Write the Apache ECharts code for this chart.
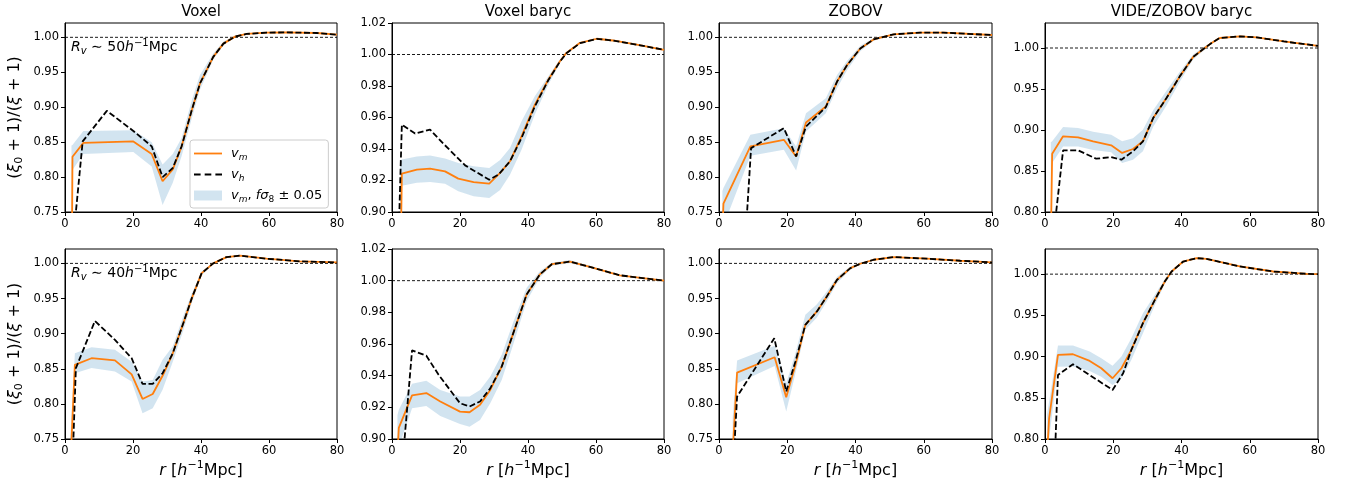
<!DOCTYPE html>
<html><head><meta charset="utf-8">
<script src="https://cdn.jsdelivr.net/npm/echarts@6/dist/echarts.min.js"></script>
<style>html,body{margin:0;padding:0;background:#fff}#c{width:1351px;height:488px}</style>
</head><body><div id="c"></div><script>
// ---- tick labels & titles ----
const xTicks = [0, 20, 40, 60, 80];
const yTicks075 = [0.75, 0.80, 0.85, 0.90, 0.95, 1.00];
const yTicks090 = [0.90, 0.92, 0.94, 0.96, 0.98, 1.00, 1.02];
const yTicks080 = [0.80, 0.85, 0.90, 0.95, 1.00];
const titles = ['Voxel', 'Voxel baryc', 'ZOBOV', 'VIDE/ZOBOV baryc'];
const radiusLabels = ['50', '40'];

// ---- Panel 1: Voxel, Rv~50 ----
const p1_r  = [1.9, 2.2, 5.4, 20.1, 25.5, 28.7, 31.7, 34.3, 37.3, 39.7, 43.6, 46.6, 50.0, 53.4, 59.3, 65.2, 74.0, 80.0];
const p1_vm = [0.60, 0.829, 0.849, 0.851, 0.833, 0.794, 0.811, 0.844, 0.896, 0.934, 0.972, 0.991, 1.001, 1.0048, 1.0067, 1.0071, 1.0062, 1.0038];
const p1_lo = [0.55, 0.810, 0.833, 0.836, 0.815, 0.760, 0.792, 0.830, 0.884, 0.925, 0.968, 0.989, 1.000, 1.0040, 1.0060, 1.0064, 1.0055, 1.0032];
const p1_hi = [0.845, 0.846, 0.866, 0.867, 0.850, 0.818, 0.833, 0.856, 0.910, 0.946, 0.977, 0.994, 1.002, 1.0056, 1.0074, 1.0078, 1.0069, 1.0044];
const p1_rh = [3.0, 5.2, 12.3, 20.1, 25.5, 28.7, 31.7, 34.3, 37.3, 39.7, 43.6, 46.6, 50.0, 53.4, 59.3, 65.2, 74.0, 80.0];
const p1_vh = [0.74, 0.851, 0.8948, 0.866, 0.844, 0.800, 0.813, 0.844, 0.896, 0.934, 0.972, 0.991, 1.001, 1.0048, 1.0067, 1.0071, 1.0062, 1.0038];

// ---- Panel 2: Voxel baryc, Rv~50 ----
const p2_r  = [2.4, 2.9, 7.3, 11.2, 15.6, 19.5, 24.0, 28.6, 31.8, 34.7, 38.1, 42.0, 46.0, 49.4, 51.3, 55.3, 60.2, 65.0, 72.0, 80.0];
const p2_vm = [0.85, 0.9243, 0.9269, 0.9275, 0.9258, 0.9212, 0.919, 0.918, 0.9248, 0.9322, 0.948, 0.968, 0.9841, 0.9957, 1.001, 1.0074, 1.010, 1.0089, 1.0062, 1.003];
const p2_lo = [0.85, 0.9167, 0.9185, 0.9191, 0.918, 0.9131, 0.910, 0.9089, 0.914, 0.9237, 0.9396, 0.9619, 0.9809, 0.9945, 1.0003, 1.0068, 1.0093, 1.0082, 1.0056, 1.0025];
const p2_hi = [0.933, 0.9333, 0.9352, 0.9358, 0.934, 0.9311, 0.929, 0.928, 0.933, 0.9407, 0.9576, 0.9735, 0.9862, 0.997, 1.0017, 1.008, 1.0107, 1.0096, 1.0068, 1.0035];
const p2_rh = [1.9, 2.9, 6.8, 11.2, 15.1, 21.5, 24.9, 28.6, 31.3, 34.7, 38.1, 42.0, 46.0, 49.4, 51.3, 55.3, 60.2, 65.0, 72.0, 80.0];
const p2_vh = [0.88, 0.9555, 0.9498, 0.9523, 0.9434, 0.9296, 0.9252, 0.9205, 0.9237, 0.9322, 0.947, 0.967, 0.9838, 0.9955, 1.0008, 1.0072, 1.0099, 1.0089, 1.0062, 1.003];

// ---- Panel 3: ZOBOV, Rv~50 ----
const p3_r  = [1.0, 1.3, 9.2, 19.0, 22.6, 25.5, 31.3, 34.6, 37.5, 41.4, 45.3, 51.2, 59.0, 65.8, 80.0];
const p3_vm = [0.72, 0.762, 0.8438, 0.8533, 0.8295, 0.878, 0.901, 0.9367, 0.960, 0.984, 0.997, 1.0043, 1.0067, 1.0067, 1.0033];
const p3_lo = [0.68, 0.73, 0.8305, 0.839, 0.8095, 0.8652, 0.8914, 0.927, 0.953, 0.980, 0.995, 1.0035, 1.006, 1.006, 1.0026];
const p3_hi = [0.78, 0.7843, 0.8605, 0.870, 0.8438, 0.8914, 0.9129, 0.9462, 0.966, 0.988, 0.999, 1.0051, 1.0074, 1.0074, 1.004];
const p3_rh = [8.1, 9.4, 19.0, 22.6, 25.5, 31.3, 34.6, 37.5, 41.4, 45.3, 51.2, 59.0, 65.8, 80.0];
const p3_vh = [0.74, 0.8414, 0.870, 0.8295, 0.8724, 0.900, 0.9367, 0.960, 0.984, 0.997, 1.0043, 1.0067, 1.0067, 1.0033];

// ---- Panel 4: VIDE/ZOBOV baryc, Rv~50 ----
const p4_r  = [1.7, 2.1, 5.3, 9.7, 14.1, 19.4, 22.6, 25.8, 28.7, 31.7, 35.6, 39.5, 43.4, 46.8, 48.8, 51.2, 57.1, 62.0, 70.0, 80.0];
const p4_vm = [0.76, 0.8711, 0.8923, 0.8911, 0.8862, 0.8813, 0.872, 0.8768, 0.8862, 0.9146, 0.939, 0.9654, 0.989, 1.000, 1.006, 1.0122, 1.0141, 1.013, 1.008, 1.0026];
const p4_lo = [0.70, 0.8598, 0.880, 0.880, 0.8755, 0.8728, 0.8598, 0.8638, 0.874, 0.904, 0.930, 0.959, 0.986, 0.998, 1.005, 1.0112, 1.0131, 1.012, 1.0072, 1.002];
const p4_hi = [0.885, 0.8862, 0.9037, 0.9025, 0.898, 0.8943, 0.8862, 0.890, 0.9004, 0.924, 0.948, 0.971, 0.992, 1.002, 1.007, 1.0132, 1.0151, 1.014, 1.0088, 1.0032];
const p4_rh = [3.0, 5.3, 9.7, 15.0, 19.4, 22.4, 25.8, 28.7, 31.7, 35.6, 39.5, 43.4, 46.8, 48.8, 51.2, 57.1, 62.0, 70.0, 80.0];
const p4_vh = [0.79, 0.8752, 0.8752, 0.865, 0.867, 0.8638, 0.874, 0.886, 0.9146, 0.939, 0.9654, 0.989, 1.000, 1.006, 1.0122, 1.0141, 1.013, 1.008, 1.0026];

// ---- Panel 5: Voxel, Rv~40 ----
const p5_r  = [1.0, 2.9, 7.8, 14.7, 19.6, 22.8, 25.8, 28.7, 31.7, 34.8, 37.3, 40.2, 43.6, 47.5, 51.5, 59.3, 69.0, 80.0];
const p5_vm = [0.65, 0.8555, 0.865, 0.862, 0.842, 0.807, 0.814, 0.840, 0.872, 0.915, 0.9506, 0.9862, 1.000, 1.009, 1.011, 1.0067, 1.003, 1.0014];
const p5_lo = [0.60, 0.8436, 0.851, 0.846, 0.8317, 0.7866, 0.7937, 0.820, 0.860, 0.905, 0.944, 0.983, 0.999, 1.008, 1.010, 1.006, 1.0024, 1.0008];
const p5_hi = [0.70, 0.872, 0.8807, 0.877, 0.860, 0.8317, 0.834, 0.8627, 0.882, 0.925, 0.957, 0.989, 1.001, 1.010, 1.012, 1.0074, 1.0036, 1.002];
const p5_rh = [2.4, 3.2, 8.8, 14.7, 19.6, 22.8, 25.8, 28.7, 31.7, 34.8, 37.3, 40.2, 43.6, 47.5, 51.5, 59.3, 69.0, 80.0];
const p5_vh = [0.74, 0.8508, 0.918, 0.891, 0.865, 0.8284, 0.8284, 0.8436, 0.872, 0.915, 0.9506, 0.9862, 1.000, 1.009, 1.011, 1.0067, 1.003, 1.0014];

// ---- Panel 6: Voxel baryc, Rv~40 ----
const p6_r  = [1.6, 2.0, 5.9, 10.1, 14.2, 20.0, 22.8, 25.9, 28.9, 32.3, 35.7, 39.6, 43.5, 47.0, 52.3, 58.2, 67.0, 80.0];
const p6_vm = [0.89, 0.907, 0.9275, 0.929, 0.9237, 0.9173, 0.9169, 0.9216, 0.931, 0.9459, 0.967, 0.9913, 1.004, 1.0104, 1.012, 1.0087, 1.0034, 1.0];
const p6_lo = [0.88, 0.895, 0.9194, 0.9209, 0.9146, 0.9095, 0.9078, 0.912, 0.9226, 0.9374, 0.960, 0.987, 1.002, 1.0095, 1.011, 1.008, 1.003, 0.9995];
const p6_hi = [0.915, 0.9184, 0.9349, 0.9368, 0.931, 0.9268, 0.9268, 0.931, 0.9395, 0.9533, 0.974, 0.9955, 1.006, 1.0113, 1.013, 1.0094, 1.0038, 1.0005];
const p6_rh = [3.5, 5.9, 10.1, 13.7, 20.0, 22.8, 25.9, 28.9, 32.3, 35.7, 39.6, 43.5, 47.0, 52.3, 58.2, 67.0, 80.0];
const p6_vh = [0.895, 0.956, 0.9526, 0.9406, 0.9226, 0.9205, 0.9237, 0.932, 0.9459, 0.967, 0.9913, 1.004, 1.0104, 1.012, 1.0087, 1.0034, 1.0];

// ---- Panel 7: ZOBOV, Rv~40 ----
const p7_r  = [4.0, 5.3, 16.3, 19.7, 22.4, 25.3, 28.7, 31.6, 34.6, 38.5, 41.4, 45.3, 51.2, 60.9, 70.7, 80.0];
const p7_vm = [0.73, 0.8446, 0.8664, 0.8094, 0.8555, 0.9125, 0.9316, 0.953, 0.9767, 0.9933, 0.9995, 1.0052, 1.009, 1.0067, 1.0038, 1.0014];
const p7_lo = [0.65, 0.8294, 0.854, 0.789, 0.8436, 0.9054, 0.923, 0.946, 0.972, 0.991, 0.998, 1.0044, 1.0082, 1.006, 1.0033, 1.001];
const p7_hi = [0.78, 0.8617, 0.8826, 0.8294, 0.872, 0.9268, 0.942, 0.960, 0.981, 0.996, 1.001, 1.006, 1.0098, 1.0074, 1.0043, 1.0018];
const p7_rh = [4.4, 5.3, 16.2, 19.7, 22.4, 25.3, 28.7, 31.6, 34.6, 38.5, 41.4, 45.3, 51.2, 60.9, 70.7, 80.0];
const p7_vh = [0.73, 0.8104, 0.8935, 0.8175, 0.8603, 0.9125, 0.9316, 0.953, 0.9767, 0.9933, 0.9995, 1.0052, 1.009, 1.0067, 1.0038, 1.0014];

// ---- Panel 8: VIDE/ZOBOV baryc, Rv~40 ----
const p8_r  = [0.6, 1.2, 3.8, 8.2, 13.1, 16.5, 19.8, 22.4, 25.3, 28.7, 32.2, 35.1, 37.1, 40.5, 44.4, 47.3, 57.1, 66.9, 76.7, 80.0];
const p8_vm = [0.78, 0.825, 0.902, 0.9028, 0.8947, 0.8858, 0.8737, 0.8858, 0.908, 0.9405, 0.9688, 0.991, 1.0032, 1.0153, 1.0194, 1.0186, 1.0093, 1.0032, 1.0004, 1.0];
const p8_lo = [0.70, 0.80, 0.8878, 0.888, 0.8826, 0.8756, 0.8655, 0.8737, 0.8959, 0.9283, 0.9627, 0.988, 1.001, 1.0143, 1.0185, 1.0177, 1.0085, 1.0026, 0.9999, 0.9996];
const p8_hi = [0.83, 0.845, 0.9133, 0.9135, 0.906, 0.898, 0.889, 0.900, 0.9223, 0.9526, 0.9749, 0.994, 1.0054, 1.0163, 1.0203, 1.0195, 1.0101, 1.0038, 1.0009, 1.0004];
const p8_rh = [3.0, 3.8, 8.2, 19.8, 22.9, 25.3, 28.7, 32.2, 35.1, 37.1, 40.5, 44.4, 47.3, 57.1, 66.9, 76.7, 80.0];
const p8_vh = [0.79, 0.8777, 0.8907, 0.8595, 0.8797, 0.908, 0.9405, 0.9688, 0.991, 1.0032, 1.0153, 1.0194, 1.0186, 1.0093, 1.0032, 1.0004, 1.0];

const panels = [
  {r:p1_r, vm:p1_vm, lo:p1_lo, hi:p1_hi, rh:p1_rh, vh:p1_vh, ymin:0.75, ymax:1.0205, ticks:yTicks075},
  {r:p2_r, vm:p2_vm, lo:p2_lo, hi:p2_hi, rh:p2_rh, vh:p2_vh, ymin:0.90, ymax:1.02,   ticks:yTicks090},
  {r:p3_r, vm:p3_vm, lo:p3_lo, hi:p3_hi, rh:p3_rh, vh:p3_vh, ymin:0.75, ymax:1.0205, ticks:yTicks075},
  {r:p4_r, vm:p4_vm, lo:p4_lo, hi:p4_hi, rh:p4_rh, vh:p4_vh, ymin:0.80, ymax:1.0305, ticks:yTicks080},
  {r:p5_r, vm:p5_vm, lo:p5_lo, hi:p5_hi, rh:p5_rh, vh:p5_vh, ymin:0.75, ymax:1.0205, ticks:yTicks075},
  {r:p6_r, vm:p6_vm, lo:p6_lo, hi:p6_hi, rh:p6_rh, vh:p6_vh, ymin:0.90, ymax:1.02,   ticks:yTicks090},
  {r:p7_r, vm:p7_vm, lo:p7_lo, hi:p7_hi, rh:p7_rh, vh:p7_vh, ymin:0.75, ymax:1.0205, ticks:yTicks075},
  {r:p8_r, vm:p8_vm, lo:p8_lo, hi:p8_hi, rh:p8_rh, vh:p8_vh, ymin:0.80, ymax:1.0305, ticks:yTicks080}
];

// ---- layout / style ----
const FONT = '"DejaVu Sans", sans-serif';
const ORANGE = '#ff7f0e';
const BAND = 'rgba(31,119,180,0.2)';
const lefts = [65, 392, 719, 1045];
const widths = [272, 272, 273, 273];
const tops = [23, 249];
const heights = [189, 190];

function rich(fs) {
  return {
    n:   {fontSize: fs, fontFamily: FONT, color: '#000', lineHeight: Math.round(fs * 1.3), verticalAlign: 'middle'},
    i:   {fontSize: fs, fontFamily: FONT, color: '#000', fontStyle: 'italic', lineHeight: Math.round(fs * 1.3), verticalAlign: 'middle'},
    sub: {fontSize: Math.round(fs * 0.7), fontFamily: FONT, color: '#000', lineHeight: Math.round(fs * 0.7), verticalAlign: 'bottom'},
    subi:{fontSize: Math.round(fs * 0.7), fontFamily: FONT, color: '#000', fontStyle: 'italic', lineHeight: Math.round(fs * 0.7), verticalAlign: 'bottom'},
    sup: {fontSize: Math.round(fs * 0.7), fontFamily: FONT, color: '#000', lineHeight: Math.round(fs * 0.7), verticalAlign: 'top'}
  };
}

const grids = [], xAxes = [], yAxes = [], series = [], graphics = [];
panels.forEach((p, i) => {
  const row = Math.floor(i / 4), col = i % 4;
  grids.push({left: lefts[col], top: tops[row], width: widths[col], height: heights[row],
    show: true, borderColor: '#000', borderWidth: 1, backgroundColor: 'transparent'});
  const xa = {type: 'value', gridIndex: i, min: 0, max: 80, interval: 20,
    axisLine: {show: true, lineStyle: {color: '#000', width: 1}},
    axisTick: {show: true, length: 4, lineStyle: {color: '#000'}, customValues: xTicks},
    axisLabel: {customValues: xTicks, fontSize: 11.5, color: '#000', margin: 6, fontFamily: FONT},
    splitLine: {show: false}};
  if (row === 1) {
    xa.name = '{i|r} [{i|h}{sup|−1}Mpc]';
    xa.nameLocation = 'middle';
    xa.nameGap = 21;
    xa.nameTextStyle = {fontSize: 16, fontFamily: FONT, color: '#000', lineHeight: 21, rich: rich(16)};
  }
  xAxes.push(xa);
  const ya = {type: 'value', gridIndex: i, min: p.ymin, max: p.ymax,
    axisLine: {show: true, lineStyle: {color: '#000', width: 1}},
    axisTick: {show: true, length: 4, lineStyle: {color: '#000'}, customValues: p.ticks},
    axisLabel: {customValues: p.ticks, fontSize: 11.5, color: '#000', margin: 6, fontFamily: FONT,
      formatter: v => v.toFixed(2)},
    splitLine: {show: false}};
  if (col === 0) {
    ya.name = '({i|ξ}{sub|0} + 1)/({i|ξ} + 1)';
    ya.nameLocation = 'middle';
    ya.nameRotate = 90;
    ya.nameGap = 40;
    ya.nameTextStyle = {fontSize: 16, fontFamily: FONT, color: '#000', lineHeight: 21, rich: rich(16)};
  }
  yAxes.push(ya);

  // band: one polygon (upper edge forward, lower edge back) through the axes' scales
  series.push({type: 'custom', name: 'band', xAxisIndex: i, yAxisIndex: i, silent: true, clip: true, z: 1,
    itemStyle: {color: BAND},
    data: p.r.map((x, k) => [x, p.lo[k], p.hi[k]]),
    encode: {x: 0, y: [1, 2]},
    renderItem: (params, api) => {
      if (params.dataIndex !== 0) return;
      const pts = [];
      for (let k = 0; k < p.r.length; k++) pts.push(api.coord([p.r[k], p.hi[k]]));
      for (let k = p.r.length - 1; k >= 0; k--) pts.push(api.coord([p.r[k], p.lo[k]]));
      return {type: 'polygon', shape: {points: pts}, style: {fill: BAND}};
    }});
  // reference line at 1
  series.push({type: 'line', xAxisIndex: i, yAxisIndex: i, symbol: 'none', silent: true,
    data: [[0, 1], [80, 1]], lineStyle: {color: '#000', width: 0.9, type: [3, 2]}, z: 2});
  // v_m
  series.push({type: 'line', name: 'vm', xAxisIndex: i, yAxisIndex: i, symbol: 'none', silent: true,
    data: p.r.map((x, k) => [x, p.vm[k]]), itemStyle: {color: ORANGE},
    lineStyle: {color: ORANGE, width: 1.8}, z: 3});
  // v_h
  series.push({type: 'line', name: 'vh', xAxisIndex: i, yAxisIndex: i, symbol: 'none', silent: true,
    data: p.rh.map((x, k) => [x, p.vh[k]]), itemStyle: {color: '#000'},
    lineStyle: {color: '#000', width: 1.8, type: [6, 2.6]}, z: 4});
});

// titles
titles.forEach((t, c) => {
  graphics.push({type: 'text', x: lefts[c] + widths[c] / 2, y: 12,
    style: {text: t, fill: '#000', font: '15px ' + FONT, align: 'center', verticalAlign: 'middle'}});
});
// Rv annotations
radiusLabels.forEach((rv, row) => {
  graphics.push({type: 'text', x: 71, y: tops[row] + 24,
    style: {text: '{i|R}{subi|v}{n| ∼ ' + rv + '}{i|h}{sup|−1}{n|Mpc}', rich: rich(14),
      fill: '#000', align: 'left', verticalAlign: 'middle'}});
});

const legendNames = {
  vm: '{i|v}{subi|m}',
  vh: '{i|v}{subi|h}',
  band: '{i|v}{subi|m}{n|, }{i|fσ}{sub|8}{n| ± 0.05}'
};
const solidIcon = 'path://M0,0h28v1.8h-28z';
const dashIcon = 'path://M0,0h6.5v1.8h-6.5zM10.5,0h6.5v1.8h-6.5zM21,0h6.5v1.8h-6.5z';

const option = {
  animation: false,
  backgroundColor: '#fff',
  grid: grids, xAxis: xAxes, yAxis: yAxes, series: series, graphic: graphics,
  legend: {
    left: 190, top: 140, orient: 'vertical',
    data: [
      {name: 'vm', icon: solidIcon, itemStyle: {color: ORANGE, borderWidth: 0}},
      {name: 'vh', icon: dashIcon, itemStyle: {color: '#000', borderWidth: 0}},
      {name: 'band', icon: 'rect', itemStyle: {color: BAND, borderWidth: 0}}
    ],
    itemWidth: 28, itemHeight: 10, itemGap: 4, symbolKeepAspect: true,
    backgroundColor: 'rgba(255,255,255,0.8)', borderColor: '#cccccc', borderWidth: 1, borderRadius: 3,
    padding: [5, 6, 4, 4], selectedMode: false,
    formatter: n => legendNames[n],
    textStyle: {fontSize: 13, fontFamily: FONT, color: '#000', lineHeight: 16, padding: [0, 0, 0, 4], rich: rich(13)}
  }
};
const chart = echarts.init(document.getElementById('c'), null, {renderer: 'canvas'});
chart.setOption(option);
</script></body></html>
